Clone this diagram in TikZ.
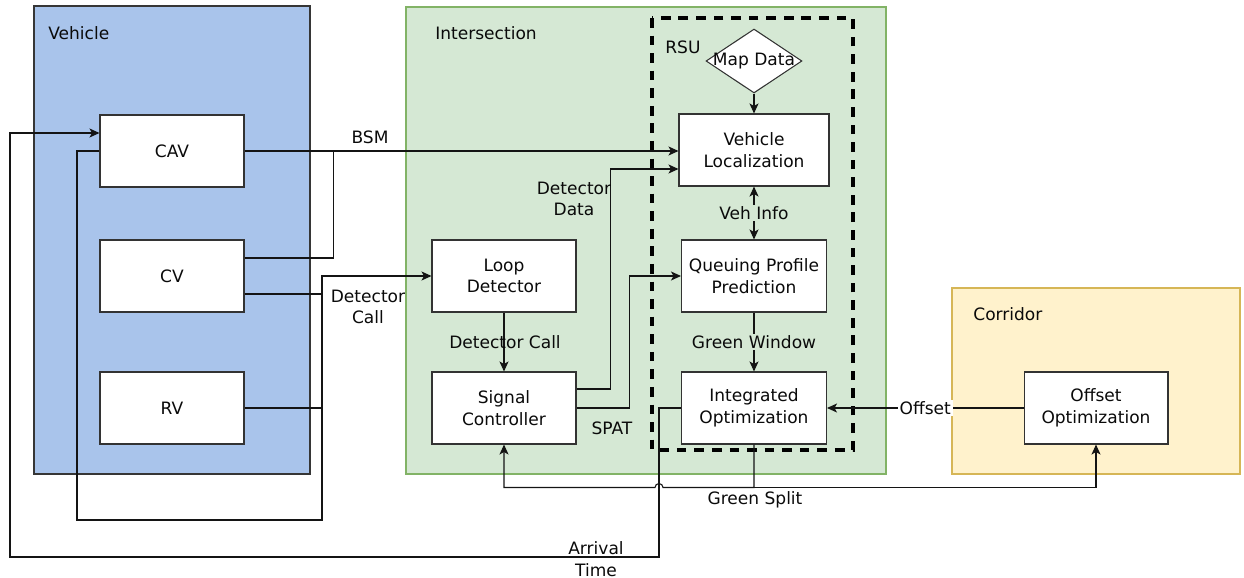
\documentclass[tikz,border=0pt]{standalone}
\usepackage{fontspec}
\setmainfont{DejaVu Sans}
\usepackage{tikz}
\usetikzlibrary{positioning,arrows.meta,calc,shapes.geometric}
\definecolor{vehblue}{RGB}{169,196,235}
\definecolor{vehline}{RGB}{54,54,54}
\definecolor{intgreen}{RGB}{213,232,212}
\definecolor{intline}{RGB}{130,179,102}
\definecolor{corryellow}{RGB}{255,242,204}
\definecolor{corrline}{RGB}{214,182,86}
\definecolor{boxline}{RGB}{51,51,51}
\definecolor{wiregray}{RGB}{20,20,20}
\definecolor{inkgray}{RGB}{10,10,10}
\newcommand{\txtsize}{\fontsize{9.7}{12.3}\selectfont}
\tikzset{
    unit/.style={draw=boxline, fill=white, line width=0.6pt, align=center, font=\txtsize, text=inkgray, minimum width=2.88cm, minimum height=1.44cm, inner sep=1pt},
    mapd/.style={diamond, draw=boxline, fill=white, line width=0.6pt, minimum width=1.92cm, minimum height=1.28cm, inner sep=0pt},
    tag/.style={font=\txtsize, text=inkgray, align=center, inner sep=1pt},
    plabel/.style={font=\txtsize, text=inkgray, anchor=west, inner sep=0pt},
    arrow/.style={-{Stealth[length=2mm,width=1.8mm,inset=0.5mm]}, line width=0.6pt, draw=wiregray},
    twoway/.style={{Stealth[length=2mm,width=1.8mm,inset=0.5mm]}-{Stealth[length=2mm,width=1.8mm,inset=0.5mm]}, line width=0.6pt, draw=wiregray},
    wire/.style={line width=0.6pt, draw=wiregray},
    vehpanel/.style={draw=vehline, fill=vehblue, line width=0.7pt},
    intpanel/.style={draw=intline, fill=intgreen, line width=0.7pt},
    corrpanel/.style={draw=corrline, fill=corryellow, line width=0.7pt},
    rsubox/.style={draw=black, line width=1.9pt, dash pattern=on 5.5pt off 4.5pt}
}
\begin{document}
\begin{tikzpicture}[x=0.02cm,y=-0.02cm]
\useasboundingbox (0,0) rectangle (1244,578);
% panels
\draw[vehpanel] (34,6) rectangle (310,474);
\draw[intpanel] (406,7) rectangle (886,474);
\draw[corrpanel] (952,288) rectangle (1240,474);
\draw[rsubox] (652,18) rectangle (853,450);
\node[plabel] (vehlbl) at (48,33) {Vehicle};
\node[plabel] (intlbl) at (435,33) {Intersection};
\node[plabel] (rsulbl) at (665,47) {RSU};
\node[plabel] (corrlbl) at (973,314) {Corridor};
% vehicles
\node[unit] (cav) at (172,151) {CAV};
\node[unit] (cv) at (172,276) {CV};
\node[unit] (rv) at (172,408) {RV};
% intersection
\node[unit] (loop) at (504,276) {Loop\\Detector};
\node[unit] (sig) at (504,408) {Signal\\Controller};
\node[mapd, label={[font=\txtsize, text=inkgray]center:Map Data}] (map) at (754,61) {};
\node[unit, minimum width=3cm] (vloc) at (754,150) {Vehicle\\Localization};
\node[unit, minimum width=2.9cm] (queue) at (754,276) {Queuing Profile\\Prediction};
\node[unit, minimum width=2.9cm] (integ) at (754,408) {Integrated\\Optimization};
% corridor
\node[unit] (offopt) at (1096,408) {Offset\\Optimization};
% bend points
\coordinate (bsmJ) at ($(cav.east)+(89,0)$);
\coordinate (cvA) at ($(cv.east)+(0,-18)$);
\coordinate (cvB) at ($(cv.east)+(0,18)$);
\coordinate (callLow) at (77,520);
\coordinate (callBus) at (322,276);
\coordinate (sigA) at ($(sig.east)+(0,-19)$);
\coordinate (gsJ) at ($(integ.south)+(0,43)$);
\coordinate (arrBot) at (659,557);
\coordinate (arrLeft) at (10,557);
\coordinate (cavIn) at ($(cav.west)+(0,-18)$);
% connectors
\draw[arrow] (cav.east) -- (cav.east -| vloc.west);
\draw[wire] (cvA) -| (bsmJ);
\draw[arrow] (cav.west) -| (callLow) -| (callBus) -- (loop.west);
\draw[wire] (cvB) -- (cvB -| callBus);
\draw[wire] (rv.east) -- (rv.east -| callBus);
\draw[arrow] (loop.south) -- (sig.north);
\draw[arrow] (sigA) -- ++(34,0) |- ($(vloc.west)+(0,19)$);
\draw[arrow] (sig.east) -- ++(53,0) |- (queue.west);
\draw[arrow] (map.south) -- (vloc.north);
\draw[twoway] (vloc.south) -- node[tag, fill=intgreen] (vehinfo) {Veh Info} (queue.north);
\draw[arrow] (queue.south) -- node[tag, fill=intgreen] (gwin) {Green Window} (integ.north);
\draw[arrow] (offopt.west) -- node[tag, fill=white, pos=0.5] (offlbl) {Offset} (integ.east);
\draw[arrow] (integ.south) -- (gsJ) -- ($(arrBot |- gsJ)+(4,0)$) arc[start angle=0, end angle=180, radius=0.08cm] -- (gsJ -| sig.south) -- (sig.south);
\draw[arrow] (gsJ) -| (offopt.south);
\draw[arrow] (integ.west) -| (arrBot) -- (arrLeft) |- (cavIn);
% labels
\node[tag] (bsmlbl) at (370,137) {BSM};
\node[tag] (calllbl) at (368,307) {Detector\\Call};
\node[tag] (ddlbl) at (574,199) {Detector\\Data};
\node[tag] (calllbl2) at (505,342) {Detector Call};
\node[tag] (spatlbl) at (612,428) {SPAT};
\node[tag] (gslbl) at (755,500) {Green Split};
\node[tag] (arrlbl) at (596,559) {Arrival\\Time};
\end{tikzpicture}
\end{document}
